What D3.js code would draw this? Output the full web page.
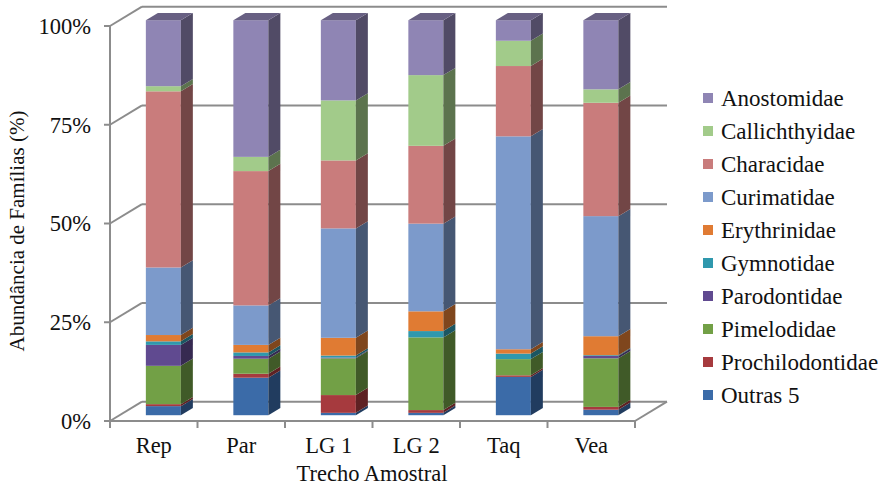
<!DOCTYPE html>
<html>
<head>
<meta charset="utf-8">
<script src="https://cdn.jsdelivr.net/npm/d3@7"></script>
<style>
  html, body { margin: 0; padding: 0; background: #fff; }
  svg { display: block; }
  text { font-family: "Liberation Serif", "Times New Roman", serif; fill: #111; }
</style>
</head>
<body>
<svg id="chart" width="885" height="488"></svg>
<script>
// Sampling stretches along the river
const categories = ["Rep", "Par", "LG 1", "LG 2", "Taq", "Vea"];

// Families, stacked from the floor upward
const families = ["Outras 5", "Prochilodontidae", "Pimelodidae", "Parodontidae", "Gymnotidae",
                  "Erythrinidae", "Curimatidae", "Characidae", "Callichthyidae", "Anostomidae"];

// Relative abundance (%) of each family per stretch
const outras5          = [2.3, 9.5, 0.6, 0.6, 9.7, 1.4];
const prochilodontidae = [0.5, 1.0, 4.5, 0.7, 0.4, 0.7];
const pimelodidae      = [9.7, 3.8, 9.3, 18.4, 4.1, 12.3];
const parodontidae     = [5.3, 0.7, 0.2, 0.0, 0.0, 0.6];
const gymnotidae       = [0.9, 0.9, 0.5, 1.6, 1.4, 0.2];
const erythrinidae     = [1.6, 1.9, 4.5, 5.0, 1.1, 4.8];
const curimatidae      = [17.1, 10.0, 27.7, 22.2, 53.9, 30.4];
const characidae       = [44.6, 34.0, 17.2, 19.7, 17.8, 28.7];
const callichthyidae   = [1.3, 3.6, 15.2, 17.9, 6.4, 3.4];
const anostomidae      = [16.7, 34.6, 20.3, 13.9, 5.2, 17.5];

const seriesValues = [outras5, prochilodontidae, pimelodidae, parodontidae, gymnotidae,
                      erythrinidae, curimatidae, characidae, callichthyidae, anostomidae];

const yTicks = [0, 0.25, 0.5, 0.75, 1];
const yTickLabels = ["0%", "25%", "50%", "75%", "100%"];

const colors = ["#3b6ba8", "#a63a3e", "#72a046", "#604a90", "#2f98ad",
                "#e07b33", "#7c9acb", "#c97c7c", "#a2cb8a", "#8f85b4"];

// Rows for d3.stack
const rows = categories.map((c, i) => {
  const r = { cat: c };
  families.forEach((f, k) => { r[f] = seriesValues[k][i]; });
  return r;
});

const stacked = d3.stack().keys(families).offset(d3.stackOffsetExpand)(rows);

const svg = d3.select("#chart");

// Front plane of the 3D box
const x = d3.scaleBand().domain(categories).range([110, 635]).paddingInner(0).paddingOuter(0);
const y = d3.scaleLinear().domain([0, 1]).range([421, 26]);

// Depth direction of the box
const DX = 32, DY = -19.3;
const F0 = 0.3, F1 = 0.675;     // bar front / back depth fractions
const barW = x.bandwidth() * 0.4;

const gridColor = "#8c8c8c";

// Back wall gridlines and left wall diagonals
const walls = svg.append("g").attr("stroke", gridColor).attr("stroke-width", 2).attr("fill", "none");
yTicks.forEach(t => {
  const yf = y(t);
  walls.append("line").attr("x1", 110).attr("y1", yf).attr("x2", 110 + DX).attr("y2", yf + DY);
  walls.append("line").attr("x1", 110 + DX).attr("y1", yf + DY).attr("x2", 635 + DX).attr("y2", yf + DY);
});
// Floor edges
walls.append("line").attr("x1", 110).attr("y1", y(0)).attr("x2", 635).attr("y2", y(0));
walls.append("line").attr("x1", 635).attr("y1", y(0)).attr("x2", 635 + DX).attr("y2", y(0) + DY);

// Vertical axis and ticks
walls.append("line").attr("x1", 110).attr("y1", y(1)).attr("x2", 110).attr("y2", y(0));
yTicks.forEach(t => {
  walls.append("line").attr("x1", 104).attr("y1", y(t)).attr("x2", 110).attr("y2", y(t));
});
// Category ticks on the floor front edge
d3.range(categories.length + 1).forEach(i => {
  const xx = 110 + i * x.step();
  walls.append("line").attr("x1", xx).attr("y1", y(0)).attr("x2", xx).attr("y2", y(0) + 7);
});

// Bars
const bars = svg.append("g");
const pt = (xx, v, f) => [xx + f * DX, y(v) + f * DY];

stacked.forEach((layer, k) => {
  const base = d3.color(colors[k]);
  const side = base.darker(1.6).formatHex();
  const top = base.darker(0.9).formatHex();
  layer.forEach((d, i) => {
    const v0 = d[0], v1 = d[1];
    if (v1 - v0 <= 0) return;
    const cx = x(categories[i]) + x.bandwidth() / 2;
    const xl = cx - barW / 2, xr = cx + barW / 2;
    // front
    const a = pt(xl, v1, F0), b = pt(xr, v0, F0);
    bars.append("rect")
      .attr("x", a[0]).attr("y", a[1])
      .attr("width", b[0] - a[0]).attr("height", b[1] - a[1])
      .attr("fill", colors[k]);
    // right side
    const s = [pt(xr, v0, F0), pt(xr, v1, F0), pt(xr, v1, F1), pt(xr, v0, F1)];
    bars.append("polygon").attr("points", s.map(p => p.join(",")).join(" ")).attr("fill", side);
    // top of the column
    if (k === stacked.length - 1) {
      const tp = [pt(xl, v1, F0), pt(xr, v1, F0), pt(xr, v1, F1), pt(xl, v1, F1)];
      bars.append("polygon").attr("points", tp.map(p => p.join(",")).join(" ")).attr("fill", top);
    }
  });
});

// Y tick labels
svg.append("g").selectAll("text").data(yTicks).join("text")
  .attr("x", 91).attr("y", d => y(d)).attr("dy", "0.35em")
  .attr("text-anchor", "end").attr("font-size", 22.5)
  .text((d, i) => yTickLabels[i]);

// Category labels
svg.append("g").selectAll("text").data(categories).join("text")
  .attr("x", d => x(d) + x.bandwidth() / 2).attr("y", 453)
  .attr("text-anchor", "middle").attr("font-size", 22.5)
  .text(d => d);

// Axis titles
svg.append("text").attr("x", 372).attr("y", 481).attr("text-anchor", "middle")
  .attr("font-size", 22.5).text("Trecho Amostral");
svg.append("text").attr("transform", "translate(24,231) rotate(-90)")
  .attr("text-anchor", "middle").attr("font-size", 21).text("Abundância de Famílias (%)");

// Legend (top entry is the last stacked family)
const legendItems = families.slice().reverse();
const legend = svg.append("g").selectAll("g").data(legendItems).join("g")
  .attr("transform", (d, i) => `translate(703,${98 + i * 33})`);
legend.append("rect").attr("x", 0).attr("y", -5).attr("width", 10).attr("height", 10)
  .attr("fill", d => colors[families.indexOf(d)]);
legend.append("text").attr("x", 18).attr("y", 0).attr("dy", "0.35em")
  .attr("font-size", 23).text(d => d);
</script>
</body>
</html>
